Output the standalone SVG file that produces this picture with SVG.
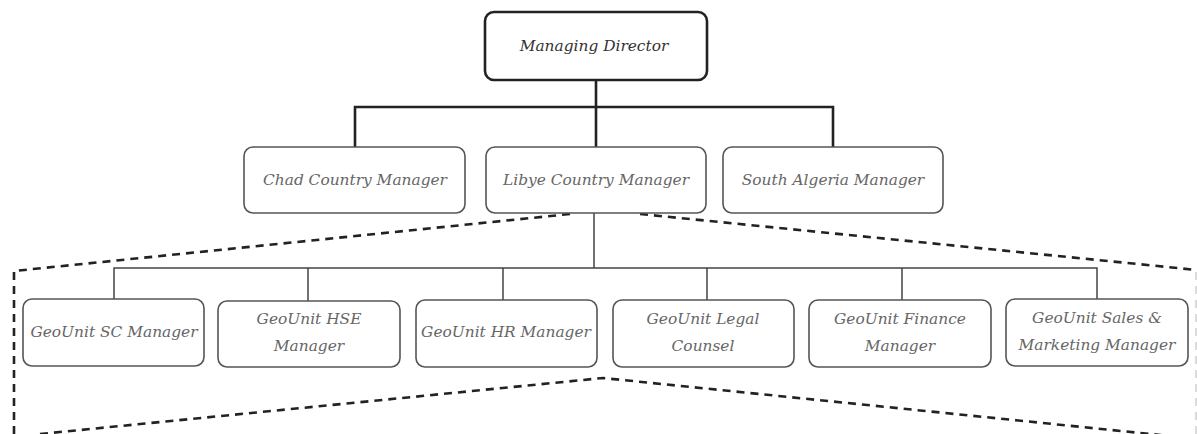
<svg xmlns="http://www.w3.org/2000/svg" width="1197" height="434" viewBox="0 0 1197 434">
  <style>
    .box { fill: #ffffff; stroke: #555555; stroke-width: 1.6; }
    .top { fill: #ffffff; stroke: #222222; stroke-width: 2.6; }
    .lbl { font-family: "DejaVu Serif", "Liberation Serif", serif; font-style: italic; font-size: 15.4px; fill: #666666; text-anchor: middle; }
    .lbl-top { fill: #333333; }
    .link-main { fill: none; stroke: #222222; stroke-width: 2.6; }
    .link { fill: none; stroke: #444444; stroke-width: 1.5; }
    .zoom { fill: none; stroke: #222222; stroke-width: 2.6; stroke-dasharray: 8 6; }
    .zoom-faint { fill: none; stroke: #cfcfcf; stroke-width: 1.5; stroke-dasharray: 8 6; }
  </style>

  <!-- dashed expansion outlines -->
  <g id="expansion">
    <path class="zoom" d="M570,214 L14,271 L14,434"/>
    <path class="zoom" d="M640,214 L1197,270"/>
    <path class="zoom-faint" d="M1196,272 L1196,434"/>
    <path class="zoom" d="M40,434 L603,378 L1170,436"/>
  </g>

  <!-- connectors -->
  <g id="connectors">
    <path class="link-main" d="M596,80 V107 M355,147 V107 H833 V147 M596,107 V147"/>
    <path class="link" d="M594,213 V268 M114,299 V268 H1097 V299 M308,268 V301 M503,268 V300 M707,268 V300 M902,268 V300"/>
  </g>

  <g id="managing-director">
    <rect class="top" x="485" y="12" width="222" height="68" rx="9"/>
    <text class="lbl lbl-top" x="594" y="51">Managing Director</text>
  </g>

  <g id="chad-country-manager">
    <rect class="box" x="244" y="147" width="221" height="66" rx="9"/>
    <text class="lbl" x="355" y="185">Chad Country Manager</text>
  </g>
  <g id="libye-country-manager">
    <rect class="box" x="486" y="147" width="220" height="66" rx="9"/>
    <text class="lbl" x="596" y="185">Libye Country Manager</text>
  </g>
  <g id="south-algeria-manager">
    <rect class="box" x="723" y="147" width="220" height="66" rx="9"/>
    <text class="lbl" x="833" y="185">South Algeria Manager</text>
  </g>

  <g id="geounit-sc-manager">
    <rect class="box" x="23" y="299" width="181" height="67" rx="9"/>
    <text class="lbl" x="114" y="337">GeoUnit SC Manager</text>
  </g>
  <g id="geounit-hse-manager">
    <rect class="box" x="218" y="301" width="182" height="66" rx="9"/>
    <text class="lbl" x="309" y="324">GeoUnit HSE</text>
    <text class="lbl" x="309" y="351">Manager</text>
  </g>
  <g id="geounit-hr-manager">
    <rect class="box" x="416" y="300" width="181" height="67" rx="9"/>
    <text class="lbl" x="506" y="337">GeoUnit HR Manager</text>
  </g>
  <g id="geounit-legal-counsel">
    <rect class="box" x="613" y="300" width="181" height="67" rx="9"/>
    <text class="lbl" x="703" y="324">GeoUnit Legal</text>
    <text class="lbl" x="703" y="351">Counsel</text>
  </g>
  <g id="geounit-finance-manager">
    <rect class="box" x="809" y="300" width="182" height="67" rx="9"/>
    <text class="lbl" x="900" y="324">GeoUnit Finance</text>
    <text class="lbl" x="900" y="351">Manager</text>
  </g>
  <g id="geounit-sales-marketing-manager">
    <rect class="box" x="1006" y="299" width="182" height="67" rx="9"/>
    <text class="lbl" x="1097" y="323">GeoUnit Sales &amp;</text>
    <text class="lbl" x="1097" y="350">Marketing Manager</text>
  </g>
</svg>
